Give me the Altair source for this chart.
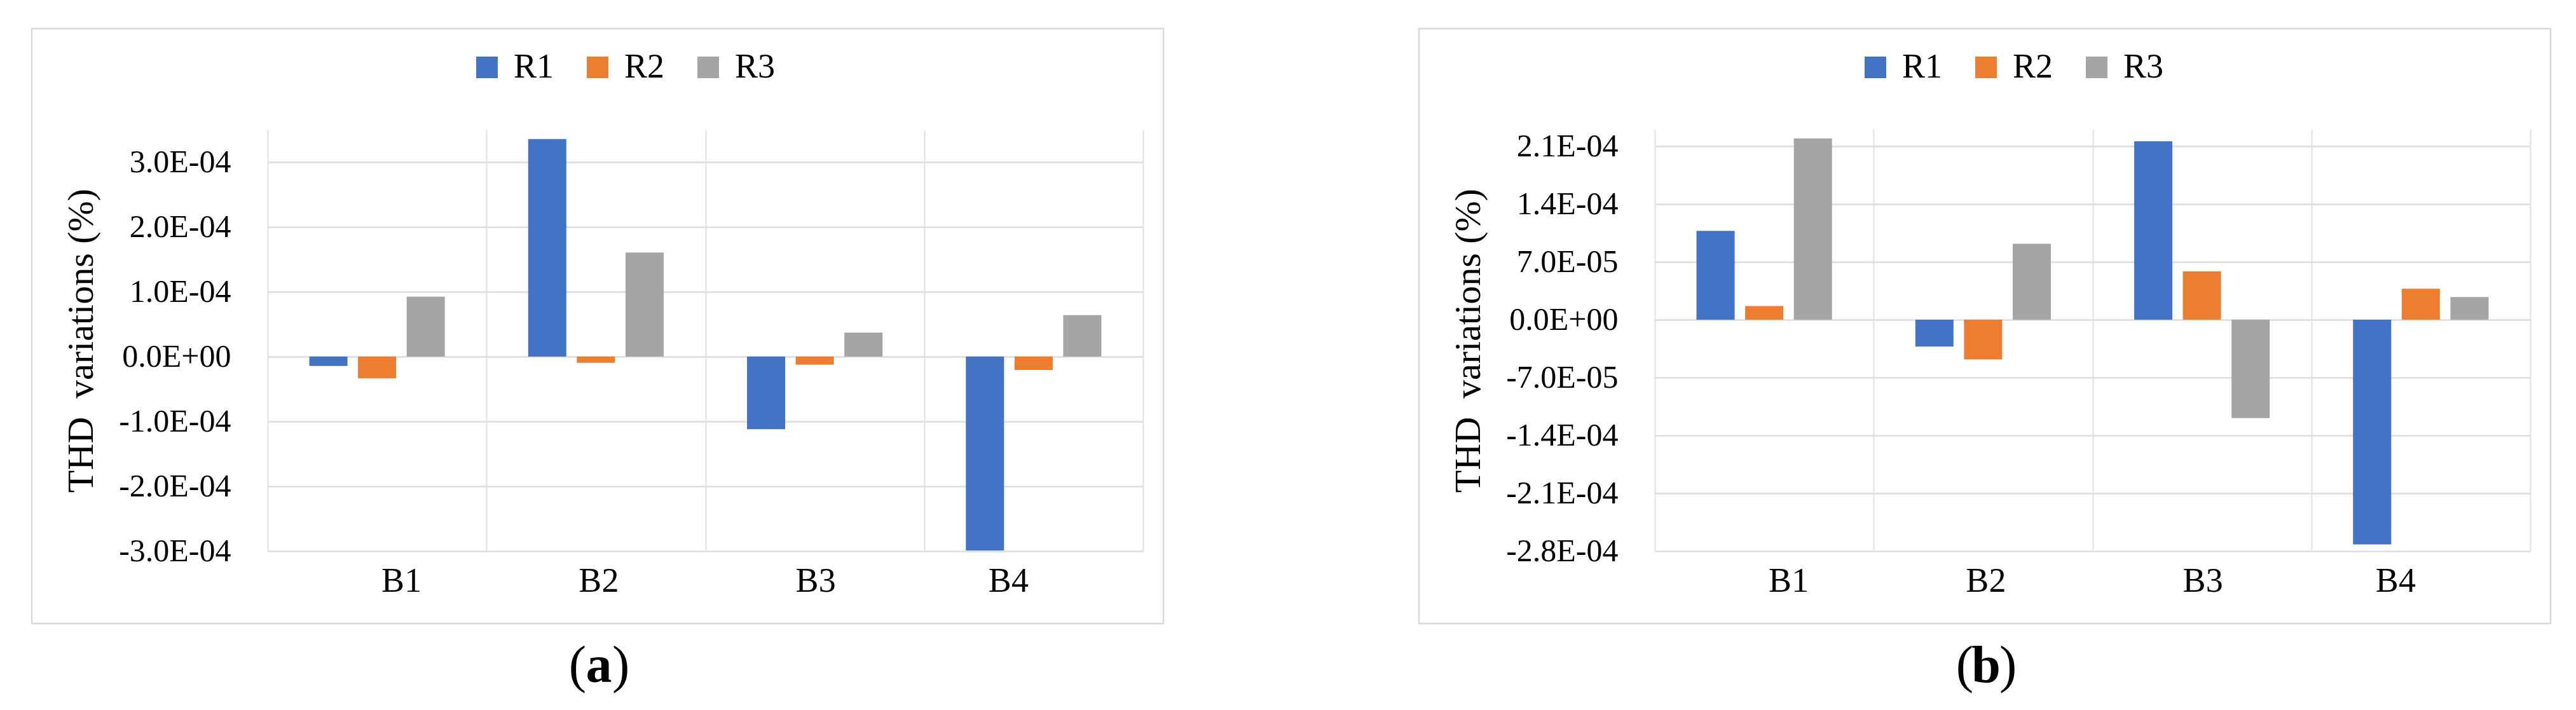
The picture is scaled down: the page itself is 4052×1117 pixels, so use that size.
import json
import altair as alt
import pandas as pd

FONT = "Liberation Serif"

categories = ["B1", "B2", "B3", "B4"]
series = ["R1", "R2", "R3"]
colors = ["#4472C4", "#ED7D31", "#A5A5A5"]

# Panel (a)
a_R1 = [-1.45e-5, 3.355e-4, -1.12e-4, -2.99e-4]
a_R2 = [-3.35e-5, -0.95e-5, -1.25e-5, -2.05e-5]
a_R3 = [9.25e-5, 1.605e-4, 3.7e-5, 6.4e-5]
a_ticks = [-3e-4, -2e-4, -1e-4, 0.0, 1e-4, 2e-4, 3e-4]
a_tick_labels = ["-3.0E-04", "-2.0E-04", "-1.0E-04", "0.0E+00", "1.0E-04", "2.0E-04", "3.0E-04"]
a_domain = [-3e-4, 3.5e-4]

# Panel (b)
b_R1 = [1.075e-4, -3.25e-5, 2.16e-4, -2.72e-4]
b_R2 = [1.65e-5, -4.8e-5, 5.85e-5, 3.75e-5]
b_R3 = [2.195e-4, 9.2e-5, -1.19e-4, 2.75e-5]
b_ticks = [-2.8e-4, -2.1e-4, -1.4e-4, -7e-5, 0.0, 7e-5, 1.4e-4, 2.1e-4]
b_tick_labels = ["-2.8E-04", "-2.1E-04", "-1.4E-04", "-7.0E-05", "0.0E+00", "7.0E-05", "1.4E-04", "2.1E-04"]
b_domain = [-2.8e-4, 2.3e-4]

y_title = "THD\u00a0 variations (%)"

W, H = 1377, 663
GRID = "#e1e1e1"
FRAME = "#d9d9d9"


def panel(r1, r2, r3, ticks, tick_labels, domain, letter, legend_x):
    rows = []
    for s, vals in zip(series, [r1, r2, r3]):
        for c, v in zip(categories, vals):
            rows.append({"cat": c, "series": s, "value": v})
    df = pd.DataFrame(rows)
    step = ticks[1] - ticks[0]
    expr = f"{json.dumps(tick_labels)}[round((datum.value - ({ticks[0]})) / {step})]"
    one = pd.DataFrame({"k": [0]})

    frame = alt.Chart(one).mark_rect(
        fillOpacity=0, stroke=FRAME, strokeWidth=2.5
    ).encode(
        x=alt.value(-371), x2=alt.value(1409), y=alt.value(-159), y2=alt.value(777)
    )

    bars = alt.Chart(df).mark_bar().encode(
        x=alt.X(
            "cat:N",
            sort=categories,
            scale=alt.Scale(paddingInner=0, paddingOuter=0),
            axis=alt.Axis(
                title=None,
                domain=False,
                ticks=False,
                tickSize=0,
                grid=True,
                gridColor=GRID,
                gridWidth=2,
                tickBand="extent",
                labelFont=FONT,
                labelFontSize=54,
                labelColor="black",
                labelPadding=63,
                labelBaseline="alphabetic",
                labelAngle=0,
                labelOffset={
                    "condition": [
                        {"test": "datum.value === 'B1'", "value": 38},
                        {"test": "datum.value === 'B2'", "value": 4},
                        {"test": "datum.value === 'B3'", "value": 1},
                    ],
                    "value": -40,
                },
            ),
        ),
        xOffset=alt.XOffset(
            "series:N", sort=series,
            scale=alt.Scale(paddingInner=0.216, paddingOuter=0.856),
        ),
        y=alt.Y(
            "value:Q",
            stack=None,
            scale=alt.Scale(domain=domain, nice=False, zero=False),
            axis=alt.Axis(
                title=y_title,
                values=ticks,
                labelExpr=expr,
                domain=False,
                ticks=False,
                tickSize=0,
                grid=True,
                gridColor=GRID,
                gridWidth=3,
                labelFont=FONT,
                labelFontSize=50,
                labelColor="black",
                labelPadding=58,
                labelFlush=False,
                labelOverlap=False,
                titleFont=FONT,
                titleFontSize=58,
                titleFontWeight="normal",
                titleColor="black",
                titleX=-276,
                titleY=H / 2,
                titleAngle=270,
                titleAlign="center",
                titleBaseline="alphabetic",
            ),
        ),
        color=alt.Color(
            "series:N",
            sort=series,
            scale=alt.Scale(domain=series, range=colors),
            legend=alt.Legend(
                title=None,
                orient="none",
                legendX=legend_x,
                legendY=-125,
                direction="horizontal",
                symbolType="square",
                symbolSize=1156,
                symbolStrokeWidth=0,
                symbolOpacity=1,
                labelFont=FONT,
                labelFontSize=54,
                labelColor="black",
                labelOffset=15,
                columnPadding=41,
                padding=0,
            ),
        ),
    )

    cx = 521
    cap_y = 869
    open_p = alt.Chart(one).mark_text(
        text="(", font=FONT, fontSize=82, align="right", baseline="alphabetic", color="black"
    ).encode(x=alt.value(cx - 20), y=alt.value(cap_y))
    mid = alt.Chart(one).mark_text(
        text=letter, font=FONT, fontSize=82, fontWeight="bold", align="center",
        baseline="alphabetic", color="black"
    ).encode(x=alt.value(cx), y=alt.value(cap_y))
    close_p = alt.Chart(one).mark_text(
        text=")", font=FONT, fontSize=82, align="left", baseline="alphabetic", color="black"
    ).encode(x=alt.value(cx + 21), y=alt.value(cap_y))

    return alt.layer(frame, bars, open_p, mid, close_p).properties(width=W, height=H)


pa = panel(a_R1, a_R2, a_R3, a_ticks, a_tick_labels, a_domain, "a", 318)
pb = panel(b_R1, b_R2, b_R3, b_ticks, b_tick_labels, b_domain, "b", 320)

chart = (
    alt.hconcat(pa, pb, spacing=398)
    .resolve_scale(x="independent", y="independent", color="independent")
    .resolve_legend(color="independent")
    .properties(padding={"left": 40, "top": 35, "right": 5, "bottom": 2}, background="white")
    .configure_view(stroke="transparent")
)

chart.save("out.html", embed_options={"renderer": "svg", "actions": False})
